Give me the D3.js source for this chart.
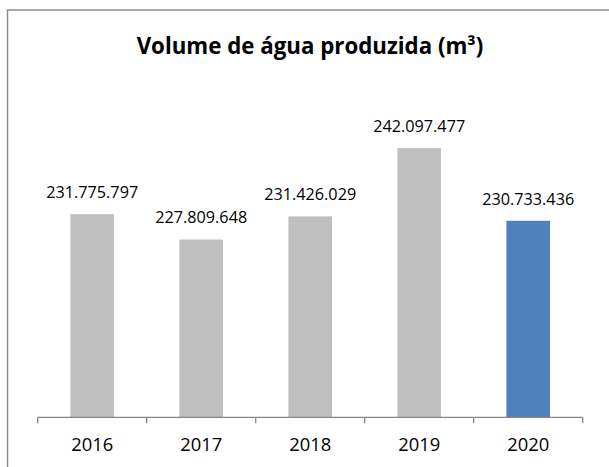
<!DOCTYPE html>
<html>
<head>
<meta charset="utf-8">
<script src="https://cdn.jsdelivr.net/npm/d3@7"></script>
<style>
  body { margin: 0; background: #fff; }
  text { font-family: "Open Sans", "Noto Sans", sans-serif; fill: #000; }
</style>
</head>
<body>
<svg id="chart"></svg>
<script>
// data
let anos = ["2016", "2017", "2018", "2019", "2020"];
let volumes = [231775797, 227809648, 231426029, 242097477, 230733436];
let cores = ["#BFBFBF", "#BFBFBF", "#BFBFBF", "#BFBFBF", "#4F81BD"];
let titulo = "Volume de água produzida (m³)";

let W = 609, H = 467;

let svg = d3.select("#chart")
  .attr("width", W)
  .attr("height", H);

svg.append("rect")
  .attr("width", W).attr("height", H)
  .attr("fill", "#fff");

// chart border (only top + left visible)
svg.append("rect")
  .attr("x", 7.5).attr("y", 10)
  .attr("width", 700).attr("height", 600)
  .attr("fill", "none")
  .attr("stroke", "#8c8c8c")
  .attr("stroke-width", 1.5);

let x = d3.scaleBand()
  .domain(anos)
  .range([37.7, 582.7])
  .paddingInner(0.6)
  .paddingOuter(0.3);

let y = d3.scaleLinear()
  .domain([200000000, 250000000])
  .range([417.3, 97.6]);

// fit a text to a target width
function ajusta(sel, largura, tamBase) {
  sel.style("font-size", tamBase + "px");
  let w = sel.node().getComputedTextLength();
  sel.style("font-size", (tamBase * largura / w) + "px");
}

// title
let t = svg.append("text")
  .attr("x", 310)
  .attr("y", 54.3)
  .attr("text-anchor", "middle")
  .style("font-weight", "bold")
  .text(titulo);
ajusta(t, 347, 24);

// bars
svg.selectAll("rect.barra")
  .data(volumes)
  .enter()
  .append("rect")
  .attr("class", "barra")
  .attr("x", (d, i) => x(anos[i]))
  .attr("width", x.bandwidth())
  .attr("y", d => y(d))
  .attr("height", d => y.range()[0] - y(d))
  .attr("fill", (d, i) => cores[i]);

// x axis
let eixo = d3.axisBottom(x)
  .tickSize(0)
  .tickPadding(0);
let g = svg.append("g")
  .attr("transform", "translate(0," + y.range()[0] + ")")
  .call(eixo);
g.select(".domain").remove();
g.selectAll(".tick text").remove();

g.append("line")
  .attr("x1", 37.7).attr("x2", 582.7)
  .attr("stroke", "#868686").attr("stroke-width", 1.3);

let bordas = anos.map((a, i) => x(a) - x.step() * x.paddingInner() / 2);
bordas.push(582.7);
g.selectAll("line.tk")
  .data(bordas)
  .enter()
  .append("line")
  .attr("class", "tk")
  .attr("x1", d => d).attr("x2", d => d)
  .attr("y1", 0).attr("y2", 6)
  .attr("stroke", "#868686").attr("stroke-width", 1.3);

// year labels
let fmtAno = svg.selectAll("text.ano")
  .data(anos)
  .enter()
  .append("text")
  .attr("class", "ano")
  .attr("x", d => x(d) + x.bandwidth() / 2)
  .attr("y", 451.3)
  .attr("text-anchor", "middle")
  .text(d => d);
fmtAno.each(function () { ajusta(d3.select(this), 42, 18); });

// value labels
let fmt = v => d3.format(",")(v).replace(/,/g, ".");
svg.selectAll("text.valor")
  .data(volumes)
  .enter()
  .append("text")
  .attr("class", "valor")
  .attr("x", (d, i) => x(anos[i]) + x.bandwidth() / 2)
  .attr("y", d => y(d) - 16)
  .attr("text-anchor", "middle")
  .text(d => fmt(d))
  .each(function () { ajusta(d3.select(this), 92, 16); });
</script>
</body>
</html>
